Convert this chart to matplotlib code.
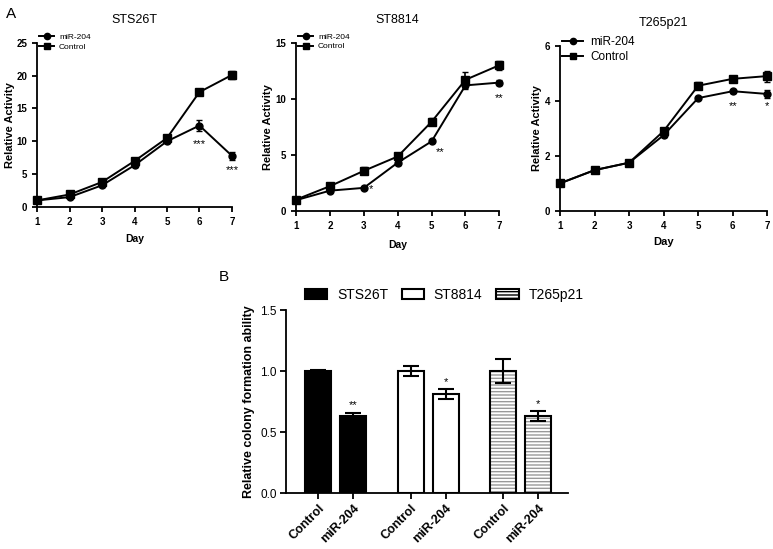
import matplotlib
matplotlib.use("Agg")
import matplotlib.pyplot as plt
from matplotlib import patches
from matplotlib.lines import Line2D

plt.rcParams['font.family'] = ['Liberation Sans', 'DejaVu Sans']

days = [1, 2, 3, 4, 5, 6, 7]

# panel A: growth curves
sts_mir = [1.0, 1.5, 3.3, 6.35, 10.0, 12.4, 7.8]
sts_mir_err = [0.1, 0.1, 0.2, 0.2, 0.3, 0.8, 0.6]
sts_ctrl = [1.0, 1.9, 3.8, 7.0, 10.5, 17.5, 20.1]
sts_ctrl_err = [0.1, 0.1, 0.2, 0.2, 0.3, 0.3, 0.6]

st8_mir = [0.95, 1.8, 2.05, 4.3, 6.2, 11.2, 11.45]
st8_mir_err = [0.1, 0.1, 0.1, 0.2, 0.1, 0.3, 0.2]
st8_ctrl = [1.0, 2.2, 3.57, 4.85, 7.95, 11.7, 13.0]
st8_ctrl_err = [0.1, 0.1, 0.3, 0.3, 0.3, 0.7, 0.4]

t26_mir = [1.0, 1.48, 1.75, 2.75, 4.1, 4.35, 4.25]
t26_mir_err = [0.03, 0.03, 0.05, 0.05, 0.05, 0.05, 0.15]
t26_ctrl = [1.0, 1.48, 1.75, 2.9, 4.55, 4.8, 4.9]
t26_ctrl_err = [0.03, 0.03, 0.05, 0.1, 0.12, 0.05, 0.2]

# significance stars: (day, y, text)
sts_stars = [(6, 9.6, '***'), (7, 5.6, '***')]
st8_stars = [(3.2, 1.9, '*'), (5.25, 5.2, '**'), (7, 10.1, '**')]
t26_stars = [(6, 3.8, '**'), (7, 3.8, '*')]

# panel B: colony formation
lines_b = ['STS26T', 'ST8814', 'T265p21']
groups_b = ['Control', 'miR-204']
colony_ctrl = [1.0, 1.0, 1.0]
colony_ctrl_err = [0.01, 0.04, 0.1]
colony_mir = [0.63, 0.81, 0.63]
colony_mir_err = [0.03, 0.04, 0.04]
colony_stars = ['**', '*', '*']

fig = plt.figure(figsize=(7.73, 5.49), dpi=100)


def growth_panel(rect, title, mir, mir_err, ctrl, ctrl_err, ymax, ystep, stars,
                 leg_size, day_pad, day_size=7.5, ylabel_pad=2):
    ax = fig.add_axes(rect)
    ax.errorbar(days, mir, yerr=mir_err, color='black', marker='o', ms=5, lw=1.4,
                capsize=2.5, elinewidth=1.2, clip_on=False)
    ax.errorbar(days, ctrl, yerr=ctrl_err, color='black', marker='s', ms=5.5, lw=1.4,
                capsize=2.5, elinewidth=1.2, clip_on=False)
    for x, y, s in stars:
        ax.text(x, y, s, ha='center', va='center', fontsize=8)
    ax.set_xlim(1, 7)
    ax.set_ylim(0, ymax)
    ax.set_xticks(days)
    ax.set_yticks(range(0, ymax + 1, ystep))
    for sp in ['top', 'right']:
        ax.spines[sp].set_visible(False)
    for sp in ['left', 'bottom']:
        ax.spines[sp].set_linewidth(1.3)
    ax.tick_params(width=1.3, length=3.5, labelsize=7)
    for lab in ax.get_xticklabels() + ax.get_yticklabels():
        lab.set_fontweight('bold')
    ax.set_title(title, fontsize=9, pad=14)
    ax.set_ylabel('Relative Activity', fontsize=8, fontweight='bold', labelpad=ylabel_pad)
    ax.set_xlabel('Day', fontsize=day_size, fontweight='bold', labelpad=day_pad)
    handles = [Line2D([], [], color='black', marker='o', ms=4.5, lw=1.4, label='miR-204'),
               Line2D([], [], color='black', marker='s', ms=5, lw=1.4, label='Control')]
    ax.legend(handles=handles, loc='upper left', bbox_to_anchor=(0.01, 1.06),
              frameon=False, fontsize=leg_size, handlelength=1.8, borderaxespad=0.0,
              borderpad=0.0, labelspacing=0.25, handletextpad=0.6)
    return ax


growth_panel([0.048, 0.623, 0.252, 0.299], 'STS26T', sts_mir, sts_mir_err,
             sts_ctrl, sts_ctrl_err, 25, 5, sts_stars, 6, day_pad=5, ylabel_pad=1)
growth_panel([0.383, 0.616, 0.263, 0.306], 'ST8814', st8_mir, st8_mir_err,
             st8_ctrl, st8_ctrl_err, 15, 5, st8_stars, 6, day_pad=7)
growth_panel([0.7245, 0.616, 0.268, 0.3005], 'T265p21', t26_mir, t26_mir_err,
             t26_ctrl, t26_ctrl_err, 6, 2, t26_stars, 8.5, day_pad=5, day_size=8)

# panel B
axb = fig.add_axes([0.370, 0.102, 0.365, 0.333])
width = 0.74
gap = 2.645
pos_ctrl = [i * gap for i in range(len(lines_b))]
pos_mir = [p + 1 for p in pos_ctrl]
for i, name in enumerate(lines_b):
    xs = [pos_ctrl[i], pos_mir[i]]
    vals = [colony_ctrl[i], colony_mir[i]]
    errs = [colony_ctrl_err[i], colony_mir_err[i]]
    if i == 0:
        axb.bar(xs, vals, width, color='black', edgecolor='black', lw=1.5, zorder=2)
    elif i == 1:
        axb.bar(xs, vals, width, color='white', edgecolor='black', lw=1.5, zorder=2)
    else:
        axb.bar(xs, vals, width, color='white', edgecolor='#999999', hatch='-----',
                lw=0, zorder=2)
        axb.bar(xs, vals, width, fill=False, edgecolor='black', lw=1.5, zorder=3)
    axb.errorbar(xs, vals, yerr=errs, fmt='none', ecolor='black', elinewidth=1.5,
                 capsize=6, capthick=1.5, zorder=4)
    axb.text(pos_mir[i], colony_mir[i] + colony_mir_err[i] + 0.06, colony_stars[i],
             ha='center', va='center', fontsize=8)

axb.set_xlim(-0.914, 7.14)
axb.set_ylim(0, 1.5)
axb.set_yticks([0.0, 0.5, 1.0, 1.5])
axb.set_yticklabels(['0.0', '0.5', '1.0', '1.5'])
ticks = []
labels = []
for i in range(len(lines_b)):
    ticks += [pos_ctrl[i], pos_mir[i]]
    labels += groups_b
axb.set_xticks(ticks)
axb.set_xticklabels(labels, rotation=45, ha='right', rotation_mode='anchor',
                    fontsize=9, fontweight='bold')
for sp in ['top', 'right']:
    axb.spines[sp].set_visible(False)
for sp in ['left', 'bottom']:
    axb.spines[sp].set_linewidth(1.3)
axb.tick_params(width=1.3, length=4.5)
axb.tick_params(axis='x', pad=2)
axb.tick_params(axis='y', labelsize=8.5, pad=2)
axb.set_ylabel('Relative colony formation ability', fontsize=9, fontweight='bold',
               labelpad=4)

handles = [
    patches.Patch(facecolor='black', edgecolor='black', lw=1.5, label=lines_b[0]),
    patches.Patch(facecolor='white', edgecolor='black', lw=1.5, label=lines_b[1]),
    patches.Patch(facecolor='white', edgecolor='black', hatch='-----', lw=1.5,
                  label=lines_b[2]),
]
axb.legend(handles=handles, loc='lower left', bbox_to_anchor=(0.067, 1.045), ncol=3,
           frameon=False, fontsize=10, handlelength=1.6, handleheight=0.8,
           columnspacing=1.0, handletextpad=0.7, borderaxespad=0.0, borderpad=0.0)

fig.text(0.008, 0.975, 'A', fontsize=11, va='center')
fig.text(0.283, 0.495, 'B', fontsize=11, va='center')

fig.savefig('out.png', dpi=100)
